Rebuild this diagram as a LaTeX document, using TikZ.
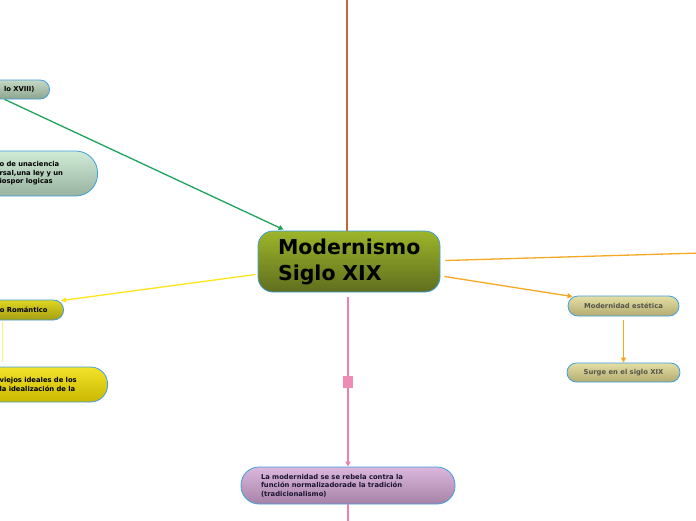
\documentclass[tikz,border=0pt]{standalone}
\usepackage{fontspec}
\setmainfont{DejaVu Sans}
\usepackage{tikz}
\usetikzlibrary{arrows.meta,calc,positioning}
\definecolor{edgeblue}{HTML}{3DA0DE}
\definecolor{brownline}{HTML}{C8663A}
\definecolor{greenline}{HTML}{1DA35A}
\definecolor{yellowline}{HTML}{FFE41A}
\definecolor{orangeline}{HTML}{F7A823}
\definecolor{pinkline}{HTML}{EC7FAE}
\definecolor{leaftext}{HTML}{55554A}

\begin{document}
\begin{tikzpicture}[x=1pt,y=-1pt,
    box/.style={draw=edgeblue,line width=0.8pt,font=\bfseries\fontsize{6.8}{8.5}\selectfont},
    mainbox/.style={draw=edgeblue,line width=0.8pt,rounded corners=15pt,
      font=\bfseries\fontsize{20.5}{26}\selectfont,text width=142pt,align=left,inner xsep=20pt,minimum height=61pt},
    tip/.style={-{Triangle[length=5pt,width=5pt]}},
    link/.style={line width=1.3pt},
  ]
    \useasboundingbox (0,0) rectangle (696,520);
    \clip (0,0) rectangle (696,520);
    % centre
    \node[mainbox,top color={rgb,255:red,156;green,181;blue,42},bottom color={rgb,255:red,95;green,110;blue,30}] (main) at (349,261.5)
      {Modernismo\\Siglo XIX};
    % left side
    \node[box,rounded corners=9.5pt,anchor=east,text width=60pt,align=right,inner xsep=15pt,minimum height=19pt,
      top color={rgb,255:red,196;green,216;blue,196},bottom color={rgb,255:red,140;green,165;blue,142}] (xviii) at (50,89.5)
      {lo XVIII)};
    \node[box,rounded corners=22pt,anchor=east,text width=70pt,align=left,inner xsep=28pt,minimum height=45pt,
      top color={rgb,255:red,208;green,235;blue,214},bottom color={rgb,255:red,152;green,178;blue,160}] (ciencia) at (98,173.5)
      {o de unaciencia\\rsal,una ley y un\\iospor logicas};
    \node[box,rounded corners=10pt,anchor=east,text width=60pt,align=right,inner xsep=16pt,minimum height=20pt,
      top color={rgb,255:red,222;green,214;blue,34},bottom color={rgb,255:red,166;green,158;blue,18}] (romantico) at (64,310)
      {o Romántico};
    \node[box,rounded corners=17pt,anchor=east,text width=80pt,align=left,inner xsep=28pt,minimum height=35pt,
      top color={rgb,255:red,242;green,227;blue,42},bottom color={rgb,255:red,201;green,183;blue,0}] (ideales) at (108,384.5)
      {viejos ideales de los\\la idealización de la};
    % right side
    \node[box,text=leaftext,rounded corners=10pt,minimum width=111pt,minimum height=20pt,
      top color={rgb,255:red,227;green,223;blue,165},bottom color={rgb,255:red,179;green,171;blue,112}] (estetica) at (623.5,306)
      {Modernidad estética};
    \node[box,text=leaftext,rounded corners=9.5pt,minimum width=113pt,minimum height=19pt,
      top color={rgb,255:red,227;green,223;blue,165},bottom color={rgb,255:red,179;green,171;blue,112}] (surge) at (623.5,372.5)
      {Surge en el siglo XIX};
    % bottom
    \node[box,text={rgb,255:red,26;green,20;blue,50},rounded corners=18pt,text width=174pt,align=left,inner xsep=20pt,minimum height=37pt,
      top color={rgb,255:red,219;green,183;blue,221},bottom color={rgb,255:red,166;green,131;blue,166}] (rebela) at (348,485.5)
      {La modernidad se se rebela contra la\\función normalizadorade la tradición\\(tradicionalismo)};
    \coordinate (top) at (347,-5);
    \coordinate (offright) at (700,253);
    \coordinate (bottom) at (348,525);
    % connectors
    \draw[link,brownline] (top) -- ($(main.north)+(-2,0)$);
    \draw[link,tip,greenline] (xviii.south) -- ($(main.north west)+(26,-1)$);
    \draw[link,tip,yellowline] ($(main.west)+(-2,13)$) -- ($(romantico.north east)+(-3,1)$);
    \draw[yellowline!60,line width=0.8pt] ($(romantico.south east)+(-62,2)$) -- ($(ideales.north east)+(-106,-5)$);
    \draw[link,orangeline] ($(main.east)+(5,-1)$) -- (offright);
    \draw[link,tip,orangeline] ($(main.east)+(4,15)$) -- ($(estetica.north west)+(5,1)$);
    \draw[link,tip,orangeline] ($(estetica.south)+(0,4)$) -- (surge.north);
    \draw[link,tip,pinkline] ($(main.south)+(-1,5)$) -- node[fill=pinkline!90!white,minimum width=10pt,minimum height=12pt,inner sep=0pt] (knob) {} (rebela.north);
    \draw[link,pinkline] (rebela.south) -- (bottom);
  \end{tikzpicture}
\end{document}
